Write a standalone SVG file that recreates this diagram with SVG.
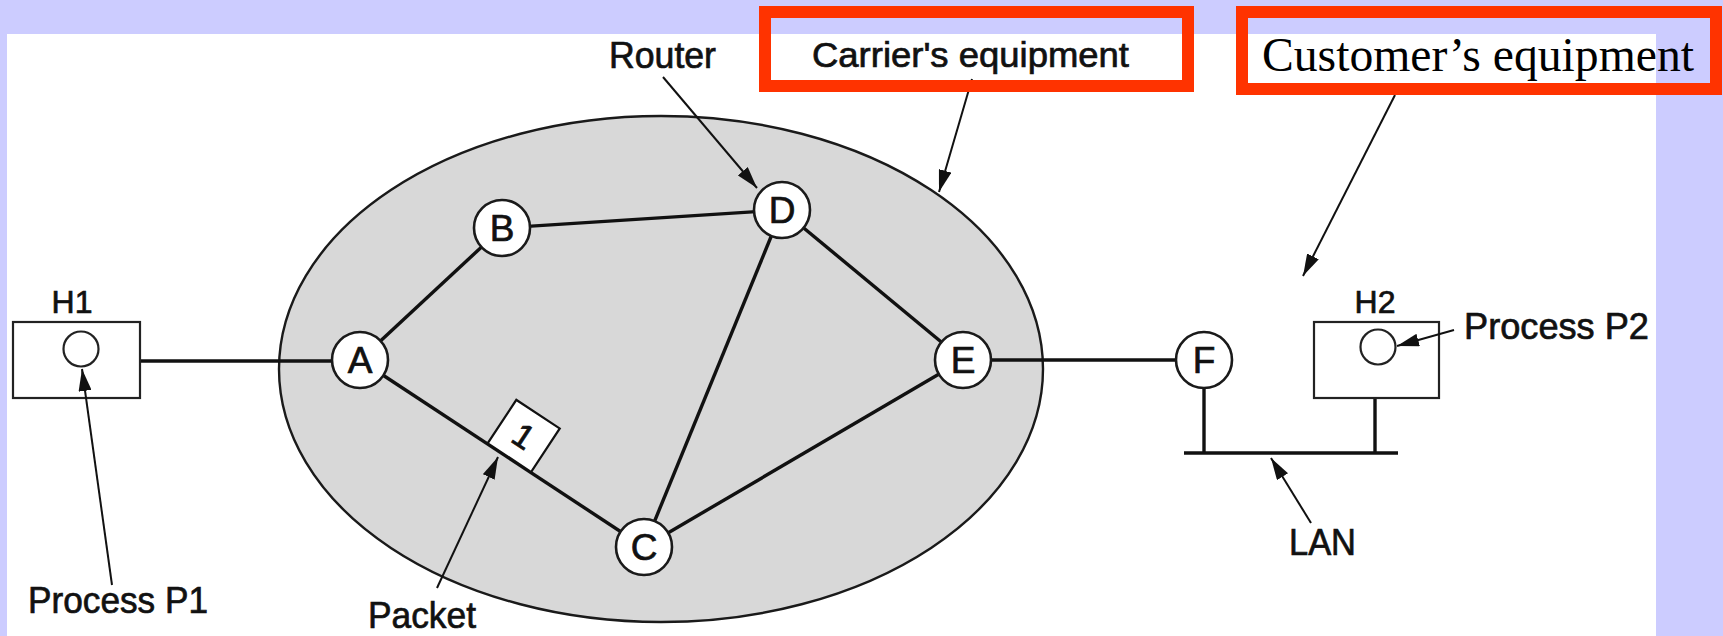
<svg xmlns="http://www.w3.org/2000/svg" width="1723" height="636" viewBox="0 0 1723 636">
  <style>
    .sans { font-family: "Liberation Sans", Arial, Helvetica, sans-serif; fill: #111; stroke: #111; stroke-width: 0.7; }
    .serif { font-family: "Liberation Serif", "Times New Roman", serif; fill: #000; }
    .lbl { font-size: 37px; }
    .hostlbl { font-size: 32px; text-anchor: middle; }
    .router circle { fill: #fff; stroke: #1a1a1a; stroke-width: 2.6; }
    .router text { font-size: 37px; text-anchor: middle; }
    .host rect { fill: #fff; stroke: #222; stroke-width: 2.2; }
    .host circle { fill: #fff; stroke: #222; stroke-width: 2.2; }
    .link { stroke: #111; stroke-width: 3.4; fill: none; }
    .pointer { stroke: #111; stroke-width: 2; fill: none; marker-end: url(#head); }
    .callout { fill: none; stroke: #ff3300; stroke-width: 12; }
  </style>
  <defs>
    <marker id="head" viewBox="0 0 22 13" refX="22" refY="6.5" markerWidth="22" markerHeight="13" markerUnits="userSpaceOnUse" orient="auto">
      <path d="M0,0 L22,6.5 L0,13 Z" fill="#111"/>
    </marker>
  </defs>

  <!-- page background and white figure area -->
  <rect x="0" y="0" width="1723" height="636" fill="#ccccff"/>
  <rect x="7" y="34" width="1649" height="602" fill="#ffffff"/>

  <!-- carrier subnet -->
  <g id="subnet">
    <ellipse cx="661" cy="369" rx="382" ry="253" fill="#d8d8d8" stroke="#1a1a1a" stroke-width="2.4"/>
  </g>

  <!-- transmission lines and the LAN bus -->
  <g id="connectors">
    <line class="link" x1="140" y1="361" x2="360" y2="361"/>
    <line class="link" x1="360" y1="360" x2="502" y2="228"/>
    <line class="link" x1="502" y1="228" x2="782" y2="210"/>
    <line class="link" x1="782" y1="210" x2="963" y2="360"/>
    <line class="link" x1="782" y1="210" x2="644" y2="547"/>
    <line class="link" x1="360" y1="360" x2="644" y2="547"/>
    <line class="link" x1="644" y1="547" x2="963" y2="360"/>
    <line class="link" x1="963" y1="360" x2="1204" y2="360"/>
    <line class="link" x1="1204" y1="360" x2="1204" y2="453"/>
    <line class="link" x1="1375" y1="398" x2="1375" y2="453"/>
    <line class="link" x1="1184" y1="453" x2="1398" y2="453" stroke-width="4"/>
  </g>

  <!-- routers -->
  <g id="node-A" class="router sans"><circle cx="360" cy="360" r="28"/><text x="360" y="373">A</text></g>
  <g id="node-B" class="router sans"><circle cx="502" cy="228" r="28"/><text x="502" y="241">B</text></g>
  <g id="node-D" class="router sans"><circle cx="782" cy="210" r="28"/><text x="782" y="223">D</text></g>
  <g id="node-E" class="router sans"><circle cx="963" cy="360" r="28"/><text x="963" y="373">E</text></g>
  <g id="node-C" class="router sans"><circle cx="644" cy="547" r="28"/><text x="644" y="560">C</text></g>
  <g id="node-F" class="router sans"><circle cx="1204" cy="360" r="28"/><text x="1204" y="373">F</text></g>

  <!-- hosts -->
  <g id="host-H1" class="host sans">
    <rect x="13" y="322" width="127" height="76"/>
    <circle cx="81" cy="349" r="17.5"/>
    <text class="hostlbl" x="72" y="313">H1</text>
  </g>
  <g id="host-H2" class="host sans">
    <rect x="1314" y="322" width="125" height="76"/>
    <circle cx="1378" cy="347" r="17.5"/>
    <text class="hostlbl" x="1375" y="313">H2</text>
  </g>

  <!-- packet travelling on link A-C -->
  <g id="packet" transform="translate(487.7,443.3) rotate(33.4)">
    <rect x="0" y="-52" width="52" height="52" fill="#fff" stroke="#111" stroke-width="2.2"/>
    <text class="sans" x="26" y="-14" font-size="34" text-anchor="middle">1</text>
  </g>

  <!-- pointer arrows from the labels -->
  <g id="pointers">
    <line class="pointer" x1="663" y1="77" x2="757" y2="188"/>
    <line class="pointer" x1="972" y1="79" x2="939" y2="192"/>
    <line class="pointer" x1="1395" y1="95" x2="1303" y2="276"/>
    <line class="pointer" x1="112" y1="585" x2="82" y2="369"/>
    <line class="pointer" x1="1454" y1="330" x2="1397" y2="346"/>
    <line class="pointer" x1="437" y1="588" x2="498" y2="457"/>
    <line class="pointer" x1="1311" y1="523" x2="1271" y2="458"/>
  </g>

  <!-- labels -->
  <g id="labels">
    <text class="sans" x="609" y="68" font-size="36" textLength="107" lengthAdjust="spacingAndGlyphs">Router</text>
    <text class="sans" x="812" y="67" font-size="35" textLength="317" lengthAdjust="spacingAndGlyphs">Carrier's equipment</text>
    <text class="serif" x="1262" y="71" font-size="48" textLength="432" lengthAdjust="spacingAndGlyphs">Customer’s equipment</text>
    <text class="sans lbl" x="28" y="613" textLength="180" lengthAdjust="spacingAndGlyphs">Process P1</text>
    <text class="sans lbl" x="1464" y="339" textLength="185" lengthAdjust="spacingAndGlyphs">Process P2</text>
    <text class="sans lbl" x="368" y="628" textLength="108" lengthAdjust="spacingAndGlyphs">Packet</text>
    <text class="sans lbl" x="1289" y="555" textLength="67" lengthAdjust="spacingAndGlyphs">LAN</text>
  </g>

  <!-- highlight frames -->
  <g id="callouts">
    <rect class="callout" x="765" y="12" width="423" height="74"/>
    <rect class="callout" x="1242" y="12" width="474" height="77"/>
  </g>
</svg>
